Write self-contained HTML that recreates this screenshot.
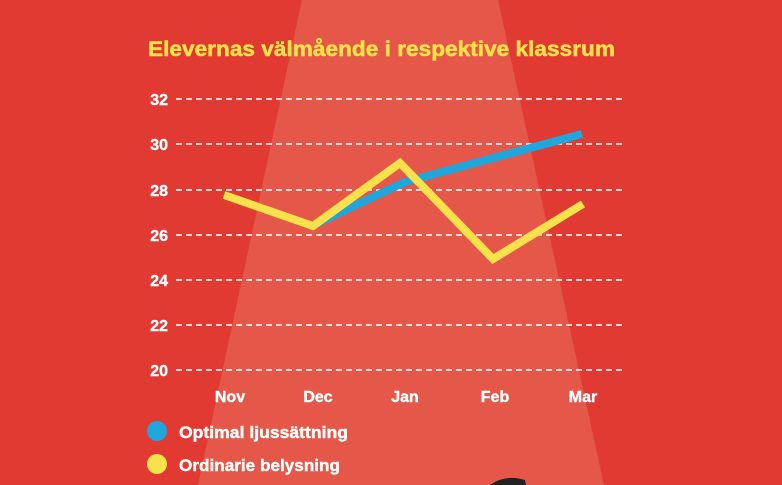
<!DOCTYPE html>
<html><head><meta charset="utf-8"><style>
html,body{margin:0;padding:0;background:#e03a33;}
svg{display:block}
text{font-family:"Liberation Sans",sans-serif;font-weight:bold}
</style></head><body>
<svg width="782" height="485" viewBox="0 0 782 485">
<rect width="782" height="485" fill="#e03a33"/>
<polygon points="302,0 498,0 604,485 198,485" fill="#e55849"/>
<path d="M490,485 Q505,474 525,480 L526,485 Z" fill="#222"/>
<text x="148" y="56" font-size="21" fill="#f8e14a" stroke="#f8e14a" stroke-width="0.5" textLength="467" lengthAdjust="spacingAndGlyphs">Elevernas välmående i respektive klassrum</text>
<g stroke="#fff" stroke-width="1.6" stroke-dasharray="6,4">
<line x1="176" y1="99" x2="626" y2="99"/>
<line x1="176" y1="144" x2="626" y2="144"/>
<line x1="176" y1="190" x2="626" y2="190"/>
<line x1="176" y1="235" x2="626" y2="235"/>
<line x1="176" y1="280" x2="626" y2="280"/>
<line x1="176" y1="325" x2="626" y2="325"/>
<line x1="176" y1="370" x2="626" y2="370"/>
</g>
<g font-size="16" fill="#fff" stroke="#fff" stroke-width="0.4" text-anchor="end">
<text x="168" y="105">32</text><text x="168" y="150">30</text><text x="168" y="196">28</text>
<text x="168" y="241">26</text><text x="168" y="286">24</text><text x="168" y="331">22</text><text x="168" y="376">20</text>
</g>
<g font-size="16" fill="#fff" stroke="#fff" stroke-width="0.4" text-anchor="middle">
<text x="230" y="402">Nov</text><text x="318" y="402">Dec</text><text x="405" y="402">Jan</text>
<text x="495" y="402">Feb</text><text x="583" y="402">Mar</text>
</g>
<polyline points="316,224 405,182 582,134" fill="none" stroke="#1fa6dd" stroke-width="8"/>
<polyline points="224,195 313,226 400,163 493,259 583,204" fill="none" stroke="#f8e14a" stroke-width="8" stroke-linejoin="miter"/>
<circle cx="157" cy="431" r="10" fill="#1fa6dd"/>
<circle cx="157" cy="464" r="10" fill="#f8e14a"/>
<text x="179" y="438" font-size="17" fill="#fff" stroke="#fff" stroke-width="0.4" textLength="169" lengthAdjust="spacingAndGlyphs">Optimal ljussättning</text>
<text x="179" y="471" font-size="17" fill="#fff" stroke="#fff" stroke-width="0.4" textLength="161" lengthAdjust="spacingAndGlyphs">Ordinarie belysning</text>
</svg>
</body></html>
